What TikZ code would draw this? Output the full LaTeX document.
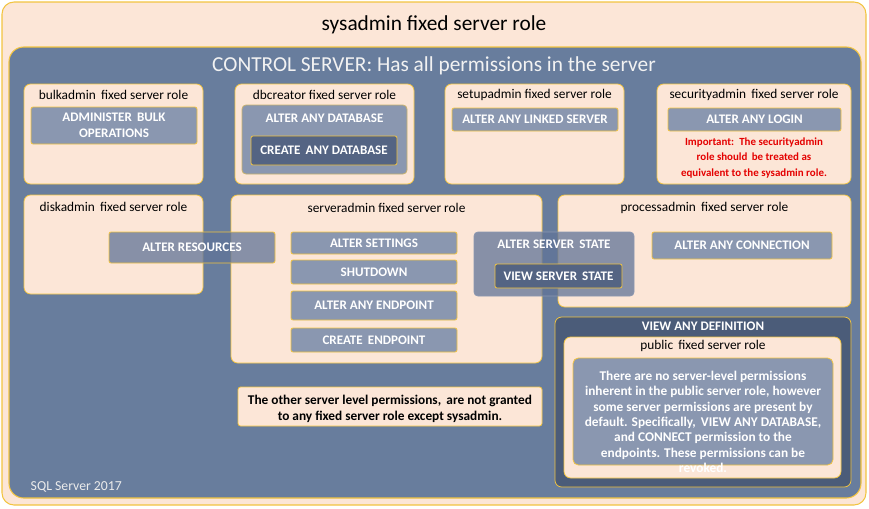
\documentclass[tikz,border=0pt]{standalone}
\usepackage{fontspec}
\setmainfont{Carlito}
\definecolor{srvpeach}{RGB}{252, 230, 215}
\definecolor{srvgold}{RGB}{242, 196, 64}
\definecolor{srvblue}{RGB}{104, 125, 157}
\definecolor{srvgray}{RGB}{138, 151, 176}
\definecolor{srvdark}{RGB}{84, 100, 131}
\definecolor{srvdeep}{RGB}{75, 92, 121}
\definecolor{srvglass}{RGB}{96, 116, 152}
\definecolor{srvred}{RGB}{228, 0, 0}
\usetikzlibrary{positioning, fit}
\tikzset{
  % Large containers.
  sysbox/.style={
    rectangle, rounded corners=9pt, inner sep=0pt,
    draw=srvgold, line width=0.8pt, fill=srvpeach,
  },
  ctrlbox/.style={sysbox, rounded corners=11pt, fill=srvblue},
  % One fixed server role.
  rolebox/.style={sysbox, rounded corners=5pt, line width=0.6pt},
  % Permission bars (#1 = fill).
  perm/.style={
    rectangle, rounded corners=1.5pt, inner sep=0pt,
    draw=srvgold, line width=0.6pt, fill=#1,
  },
  permbox/.style={perm=srvgray},
  permdark/.style={perm=srvdark},
  permglass/.style={perm=srvglass, fill opacity=0.75},
  % Texts.
  bigtitle/.style={font=\fontsize{16}{19}\selectfont, text=black},
  roletitle/.style={font=\fontsize{10}{12}\selectfont, text=black},
  permtext/.style={align=center, text=white,
    font=\fontsize{9.8}{12}\selectfont\bfseries},
  notetext/.style={align=center, font=\fontsize{10}{12}\selectfont\bfseries},
}
\begin{document}
\begin{tikzpicture}[x=0.75pt, y=-0.75pt]
\useasboundingbox (0,0) rectangle (869,508);

% sysadmin and CONTROL SERVER
\node[sysbox, fit={(2,2)(866,505)}] (sysadmin) {};
\node[bigtitle] (systitle) at (434,25) {sysadmin fixed server role};
\node[ctrlbox, fit={(9,47)(861,498)}] (control) {};
\node[bigtitle, text=white!95!black] (ctrltitle) at (434,66) {CONTROL SERVER: Has all permissions in the server};
\node[roletitle, font=\fontsize{10.3}{12}\selectfont, text=white!92!black, anchor=west] (version) at (26,487) {SQL Server 2017};

% Top row of roles
\node[rolebox, fit={(24,84)(203,184)}] (bulk) {};
\node[roletitle] (bulktitle) at (113.5,95) {bulkadmin\, fixed server role};
\node[permbox, fit={(31,107)(197,144)}] (bulkop) {};
\node[permtext] (bulkoptext) at (bulkop) {ADMINISTER\, BULK\\OPERATIONS};

\node[rolebox, fit={(235,84)(414,184)}] (dbc) {};
\node[roletitle] (dbctitle) at (324.5,95) {dbcreator fixed server role};
\node[permbox, rounded corners=3pt, draw=srvgold!60!srvgray, fit={(242,105)(407,174)}] (altdb) {};
\node[permtext] (altdbtext) at (324.5,118) {ALTER ANY DATABASE};
\node[permdark, fit={(251,136)(397,165)}] (createdb) {};
\node[permtext] (createdbtext) at (createdb) {CREATE\, ANY DATABASE};

\node[rolebox, fit={(445,84)(624,184)}] (setup) {};
\node[roletitle] (setuptitle) at (534.5,95) {setupadmin fixed server role};
\node[permbox, fit={(452,108)(618,131)}] (linked) {};
\node[permtext] (linkedtext) at (linked) {ALTER ANY LINKED SERVER};

\node[rolebox, fit={(657,84)(851,184)}] (security) {};
\node[roletitle] (securitytitle) at (754,95) {securityadmin\, fixed server role};
\node[permbox, fit={(668,108)(841,131)}] (login) {};
\node[permtext] (logintext) at (login) {ALTER ANY LOGIN};
\node[notetext, text=srvred, font=\fontsize{8.2}{11.6}\selectfont\bfseries, anchor=north] (important) at (754,133)
  {Important:\, The securityadmin\\role should\, be treated as\\equivalent to the sysadmin role.};

% Middle row of roles
\node[rolebox, fit={(24,195)(203,294)}] (disk) {};
\node[roletitle] (disktitle) at (113.5,207) {diskadmin\, fixed server role};

\node[rolebox, fit={(231,195)(542,363)}] (server) {};
\node[roletitle] (servertitle) at (386.5,208) {serveradmin fixed server role};
\node[permbox, fit={(291,232)(457,254)}] (settings) {};
\node[permtext] (settingstext) at (settings) {ALTER SETTINGS};
\node[permbox, fit={(291,260)(457,284)}] (shutdown) {};
\node[permtext] (shutdowntext) at (shutdown) {SHUTDOWN};
\node[permbox, fit={(291,291)(457,320)}] (endpoint) {};
\node[permtext] (endpointtext) at (endpoint) {ALTER ANY ENDPOINT};
\node[permbox, fit={(291,328)(457,352)}] (createep) {};
\node[permtext] (createeptext) at (createep) {CREATE\, ENDPOINT};

\node[rolebox, fit={(558,195)(851,307)}] (process) {};
\node[roletitle] (processtitle) at (704.5,208) {processadmin\, fixed server role};
\node[permbox, fit={(652,232)(832,259)}] (connection) {};
\node[permtext] (connectiontext) at (connection) {ALTER ANY CONNECTION};

% Permissions shared by two roles
\node[permglass, fit={(109,232)(275,263)}] (resources) {};
\node[permtext] (resourcestext) at (resources) {ALTER RESOURCES};
\node[permglass, draw=srvgray, rounded corners=3pt, fit={(474,232)(634,296)}] (srvstate) {};
\node[permtext] (srvstatetext) at (554,244) {ALTER SERVER\, STATE};
\node[permdark, fit={(495,264)(622,288)}] (viewstate) {};
\node[permtext] (viewstatetext) at (viewstate) {VIEW SERVER\, STATE};

% VIEW ANY DEFINITION and public
\node[rolebox, fill=srvdeep, fit={(555,317)(851,487)}] (viewdef) {};
\node[permtext] (viewdeftext) at (703,326) {VIEW ANY DEFINITION};
\node[rolebox, fit={(564,337)(841,478)}] (public) {};
\node[roletitle] (publictitle) at (703,346) {public\, fixed server role};
\node[permbox, rounded corners=4pt, fit={(573,358)(833,465)}] (publicperm) {};
\node[notetext, text=white, font=\fontsize{10}{11.6}\selectfont\bfseries, anchor=north] (publictext) at (703,366)
  {There are no server-level permissions\\inherent in the public server role, however\\some server permissions are present by\\default. Specifically,\, VIEW ANY DATABASE,\\and CONNECT permission to the\\endpoints. These permissions can be\\revoked.};

% Note on the other permissions
\node[rolebox, rounded corners=2pt, fit={(238,387)(542,426)}] (other) {};
\node[notetext, anchor=north] (othertext) at (390,390)
  {The other server level permissions,\, are not granted\\to any fixed server role except sysadmin.};

\end{tikzpicture}
\end{document}
